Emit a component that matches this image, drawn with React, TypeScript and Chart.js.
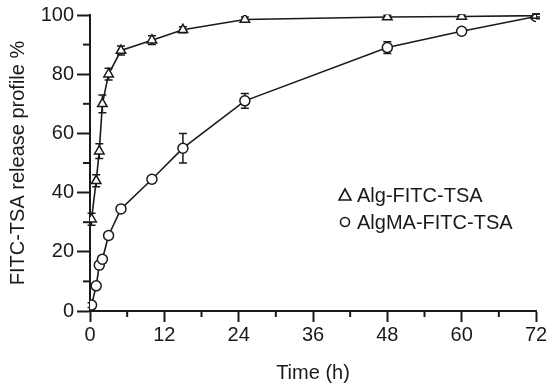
import React, { useEffect, useRef } from "react";
import { Chart, registerables } from "chart.js";

Chart.register(...registerables);

const timeH = [0.25, 1, 1.5, 2, 3, 5, 10, 15, 25, 48, 60, 72];
const algValues = [31, 44, 54, 70, 80, 88, 91.5, 95, 98.5, 99.3, 99.5, 99.8];
const algErrors = [2, 2, 2.5, 3, 2, 1.5, 1.5, 1, 0.8, 0.6, 0.5, 0.5];
const algmaValues = [2, 8.5, 15.5, 17.5, 25.5, 34.5, 44.5, 55, 71, 89, 94.5, 99.5];
const algmaErrors = [0.8, 1, 1, 1.2, 1, 0.8, 1.2, 5, 2.5, 2, 1, 0.8];
const xTicks = [0, 12, 24, 36, 48, 60, 72];
const yTicks = [0, 20, 40, 60, 80, 100];
const seriesLabels = ["Alg-FITC-TSA", "AlgMA-FITC-TSA"];

const INK = "#1a1a1a";
const FONT = "Liberation Sans, Arial, sans-serif";

const errorBars = {
  id: "errorBars",
  beforeDatasetsDraw(chart: any) {
    const { ctx, scales } = chart;
    const xs = scales.x;
    const ys = scales.y;
    const sets = [
      { v: algValues, e: algErrors },
      { v: algmaValues, e: algmaErrors },
    ];
    ctx.save();
    ctx.strokeStyle = INK;
    ctx.lineWidth = 1.5;
    sets.forEach((s) => {
      s.v.forEach((val, i) => {
        const px = xs.getPixelForValue(timeH[i]);
        const top = ys.getPixelForValue(Math.min(val + s.e[i], 100.5));
        const bot = ys.getPixelForValue(val - s.e[i]);
        ctx.beginPath();
        ctx.moveTo(px, top);
        ctx.lineTo(px, bot);
        ctx.moveTo(px - 4, top);
        ctx.lineTo(px + 4, top);
        ctx.moveTo(px - 4, bot);
        ctx.lineTo(px + 4, bot);
        ctx.stroke();
      });
    });
    ctx.restore();
  },
};

const minorTicks = {
  id: "minorTicks",
  afterDraw(chart: any) {
    const { ctx, scales } = chart;
    const xs = scales.x;
    const ys = scales.y;
    ctx.save();
    ctx.strokeStyle = INK;
    ctx.lineWidth = 2;
    const x0 = xs.left;
    const y0 = ys.bottom;
    for (let v = 6; v < 72; v += 12) {
      const px = xs.getPixelForValue(v);
      ctx.beginPath();
      ctx.moveTo(px, y0);
      ctx.lineTo(px, y0 + 6);
      ctx.stroke();
    }
    for (let v = 10; v < 100; v += 20) {
      const py = ys.getPixelForValue(v);
      ctx.beginPath();
      ctx.moveTo(x0, py);
      ctx.lineTo(x0 - 7, py);
      ctx.stroke();
    }
    ctx.restore();
  },
};

const insideLegend = {
  id: "insideLegend",
  afterDraw(chart: any) {
    const { ctx } = chart;
    ctx.save();
    ctx.strokeStyle = INK;
    ctx.fillStyle = INK;
    ctx.lineWidth = 1.6;
    ctx.beginPath();
    ctx.moveTo(345, 189);
    ctx.lineTo(351, 200);
    ctx.lineTo(339, 200);
    ctx.closePath();
    ctx.stroke();
    ctx.beginPath();
    ctx.arc(345, 222, 4.5, 0, Math.PI * 2);
    ctx.stroke();
    ctx.font = `20px ${FONT}`;
    ctx.textBaseline = "middle";
    ctx.textAlign = "left";
    ctx.fillText(seriesLabels[0], 357, 196);
    ctx.fillText(seriesLabels[1], 357, 223);
    ctx.restore();
  },
};

export default function App() {
  const ref = useRef<HTMLCanvasElement | null>(null);
  useEffect(() => {
    if (!ref.current) return;
    const chart = new Chart(ref.current, {
      type: "line",
      data: {
        datasets: [
          {
            label: seriesLabels[0],
            data: timeH.map((t, i) => ({ x: t, y: algValues[i] })),
            borderColor: INK,
            borderWidth: 1.6,
            pointStyle: "triangle",
            pointRadius: 5.5,
            pointBackgroundColor: "#fff",
            pointBorderColor: INK,
            pointBorderWidth: 1.5,
            tension: 0,
          },
          {
            label: seriesLabels[1],
            data: timeH.map((t, i) => ({ x: t, y: algmaValues[i] })),
            borderColor: INK,
            borderWidth: 1.6,
            pointStyle: "circle",
            pointRadius: 5,
            pointBackgroundColor: "#fff",
            pointBorderColor: INK,
            pointBorderWidth: 1.5,
            tension: 0,
          },
        ],
      },
      options: {
        animation: false,
        responsive: false,
        maintainAspectRatio: false,
        layout: { padding: { top: 13, right: 15, left: 2, bottom: 0 } },
        plugins: { legend: { display: false }, tooltip: { enabled: false } },
        scales: {
          x: {
            type: "linear",
            min: 0,
            max: 72,
            afterBuildTicks: (s: any) => {
              s.ticks = xTicks.map((v) => ({ value: v }));
            },
            afterFit: (s: any) => {
              s.height = 78;
            },
            border: { display: true, color: INK, width: 2 },
            grid: {
              display: true,
              drawOnChartArea: false,
              drawTicks: true,
              tickLength: 11,
              tickWidth: 2,
              tickColor: INK,
            },
            ticks: {
              color: INK,
              font: { family: FONT, size: 20 },
              padding: 1,
              maxRotation: 0,
            },
            title: {
              display: true,
              text: "Time (h)",
              color: INK,
              font: { family: FONT, size: 20 },
              padding: { top: 4 },
            },
          },
          y: {
            type: "linear",
            min: 0,
            max: 100,
            afterBuildTicks: (s: any) => {
              s.ticks = yTicks.map((v) => ({ value: v }));
            },
            afterFit: (s: any) => {
              s.width = 88;
            },
            border: { display: true, color: INK, width: 2 },
            grid: {
              display: true,
              drawOnChartArea: false,
              drawTicks: true,
              tickLength: 13,
              tickWidth: 2,
              tickColor: INK,
            },
            ticks: {
              color: INK,
              font: { family: FONT, size: 20 },
              padding: 3,
            },
            title: {
              display: true,
              text: "FITC-TSA release profile %",
              color: INK,
              font: { family: FONT, size: 20 },
              padding: { bottom: 2 },
            },
          },
        },
      },
      plugins: [errorBars, minorTicks, insideLegend],
    });
    return () => chart.destroy();
  }, []);
  return (
    <div style={{ position: "absolute", left: 0, top: 0, width: 551, height: 389, background: "#fff" }}>
      <canvas ref={ref} width={551} height={389} />
    </div>
  );
}
